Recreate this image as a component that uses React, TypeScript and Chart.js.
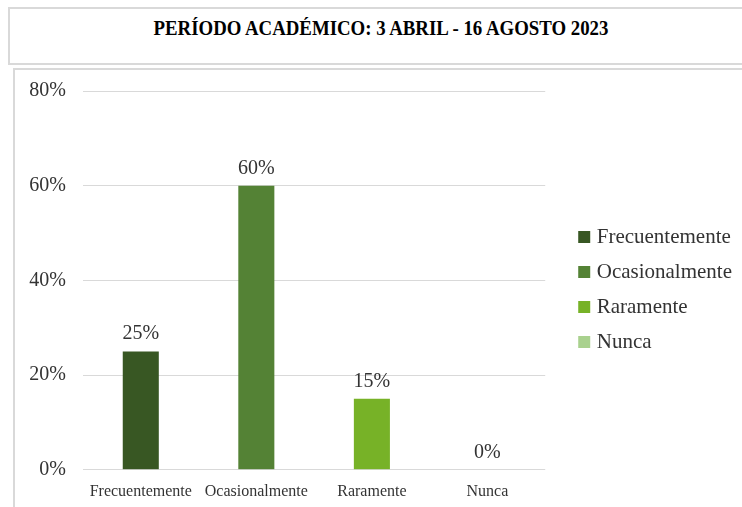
import React, { useEffect, useRef } from "react";
import { Chart, registerables } from "chart.js";

Chart.register(...registerables);

const titleText = "PERÍODO ACADÉMICO: 3 ABRIL - 16 AGOSTO 2023";
const categories = ["Frecuentemente", "Ocasionalmente", "Raramente", "Nunca"];
const values = [25, 60, 15, 0];
const colors = ["#385723", "#548235", "#77B227", "#A9D18E"];
const yTicks = [0, 20, 40, 60, 80];

const FONT = "'Liberation Serif', 'Times New Roman', serif";
const TEXT = "#333333";

const valueLabels = {
  id: "valueLabels",
  afterDatasetsDraw(chart: any) {
    const ctx = chart.ctx;
    ctx.save();
    ctx.font = `20px ${FONT}`;
    ctx.fillStyle = TEXT;
    ctx.textAlign = "center";
    ctx.textBaseline = "alphabetic";
    chart.data.datasets.forEach((ds: any, i: number) => {
      const meta = chart.getDatasetMeta(i);
      meta.data.forEach((bar: any, j: number) => {
        const v = ds.data[j];
        if (v === null || v === undefined) return;
        ctx.fillText(`${v}%`, bar.x, bar.y - 12);
      });
    });
    ctx.restore();
  },
};

export default function App() {
  const ref = useRef<HTMLCanvasElement>(null);

  useEffect(() => {
    if (!ref.current) return;
    const datasets = categories.map((c, i) => ({
      label: c,
      data: categories.map((_, j) => (j === i ? values[i] : null)),
      backgroundColor: colors[i],
      borderWidth: 0,
      categoryPercentage: 1,
      barPercentage: 0.312,
      grouped: false,
      yAxisID: "y",
    }));
    const chart = new Chart(ref.current, {
      type: "bar",
      data: { labels: categories, datasets },
      options: {
        animation: false,
        responsive: false,
        maintainAspectRatio: false,
        layout: { padding: { top: 21, bottom: 0, left: 0, right: 0 } },
        plugins: {
          tooltip: { enabled: false },
          title: { display: false },
          legend: {
            position: "right",
            align: "center",
            fullSize: false,
            maxWidth: 400,
            title: { display: true, text: " ", padding: 2, font: { size: 12 } },
            labels: {
              font: { family: FONT, size: 21 },
              color: TEXT,
              usePointStyle: true,
              pointStyle: "rect",
              boxWidth: 4,
              boxHeight: 12,
              padding: 14,
            },
          },
        },
        scales: {
          x: {
            grid: { display: false, drawTicks: false },
            border: { display: false },
            ticks: {
              font: { family: FONT, size: 16 },
              color: TEXT,
              padding: 12,
              maxRotation: 0,
              autoSkip: false,
            },
          },
          y: {
            min: 0,
            max: 80,
            grid: {
              color: "#D9D9D9",
              drawTicks: true,
              tickLength: 17,
              tickColor: "rgba(0,0,0,0)",
              lineWidth: 1,
            },
            border: { display: false },
            ticks: {
              stepSize: 20,
              font: { family: FONT, size: 20, lineHeight: 0.6 },
              color: TEXT,
              padding: 0,
              callback: (v: any) => (yTicks.includes(Number(v)) ? `${v}%` : ""),
            },
            afterFit: (s: any) => {
              s.width = 68;
            },
          },
          yr: {
            position: "right",
            display: true,
            grid: { display: false, drawTicks: false },
            border: { display: false },
            ticks: { display: false },
            afterFit: (s: any) => {
              s.width = 23;
            },
          },
        },
      },
      plugins: [valueLabels],
    });
    return () => chart.destroy();
  }, []);

  return (
    <div>
      <div
        style={{
          position: "absolute",
          left: 8,
          top: 7,
          width: 742,
          height: 54,
          border: "2px solid #D9D9D9",
          textAlign: "center",
          boxSizing: "content-box",
          overflow: "hidden",
        }}
      >
        <div
          style={{
            display: "inline-block",
            marginTop: 6,
            fontFamily: FONT,
            fontWeight: "bold",
            fontSize: 22,
            color: "#000",
            transform: "scaleX(0.855)",
            whiteSpace: "nowrap",
          }}
        >
          {titleText}
        </div>
      </div>
      <div
        style={{
          position: "absolute",
          left: 13,
          top: 68,
          width: 760,
          height: 460,
          border: "2px solid #D9D9D9",
        }}
      >
        <canvas ref={ref} width={727} height={443} style={{ display: "block" }} />
      </div>
    </div>
  );
}
